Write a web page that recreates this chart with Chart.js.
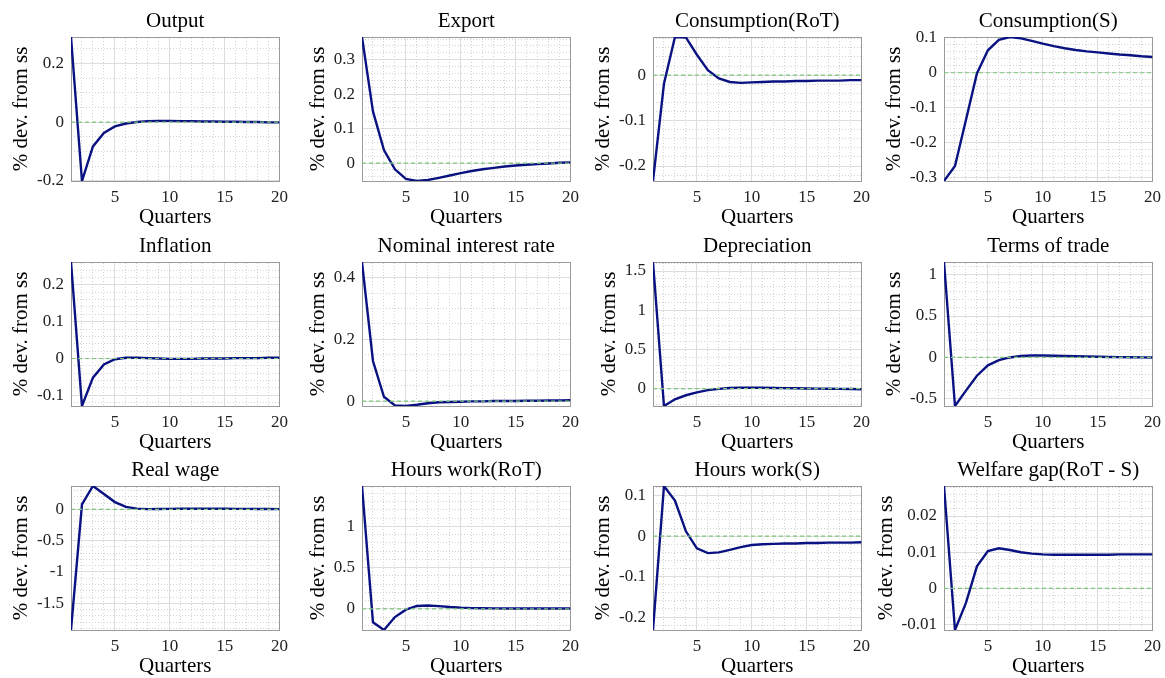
<!DOCTYPE html>
<html>
<head>
<meta charset="utf-8">
<script src="https://cdn.jsdelivr.net/npm/chart.js@4"></script>
<style>
  html, body { margin: 0; padding: 0; background: #ffffff; }
  body { width: 1165px; height: 678px; position: relative; overflow: hidden; }
  canvas { position: absolute; }
</style>
</head>
<body>
<script>
// ---------------- DATA ----------------
const quarters = [1, 2, 3, 4, 5, 6, 7, 8, 9, 10, 11, 12, 13, 14, 15, 16, 17, 18, 19, 20];

const titles = ['Output', 'Export', 'Consumption(RoT)', 'Consumption(S)',
                'Inflation', 'Nominal interest rate', 'Depreciation', 'Terms of trade',
                'Real wage', 'Hours work(RoT)', 'Hours work(S)', 'Welfare gap(RoT - S)'];

const output       = [0.29, -0.201, -0.083, -0.037, -0.015, -0.005, 0.000, 0.003, 0.004, 0.004, 0.003, 0.003, 0.002, 0.002, 0.001, 0.001, 0.000, 0.000, -0.001, -0.001];
const exportS      = [0.366, 0.150, 0.038, -0.018, -0.046, -0.052, -0.049, -0.043, -0.036, -0.029, -0.023, -0.018, -0.014, -0.010, -0.007, -0.005, -0.003, -0.001, 0.001, 0.002];
const consRoT      = [-0.233, -0.019, 0.084, 0.083, 0.045, 0.011, -0.007, -0.015, -0.017, -0.016, -0.015, -0.014, -0.014, -0.013, -0.013, -0.012, -0.012, -0.012, -0.011, -0.011];
const consS        = [-0.309, -0.266, -0.135, -0.002, 0.064, 0.094, 0.102, 0.098, 0.091, 0.083, 0.076, 0.070, 0.065, 0.061, 0.058, 0.055, 0.052, 0.050, 0.047, 0.045];
const inflation    = [0.262, -0.129, -0.052, -0.016, -0.002, 0.002, 0.002, 0.001, 0.000, -0.001, -0.001, -0.001, 0.000, 0.000, 0.000, 0.001, 0.001, 0.001, 0.002, 0.002];
const nominalRate  = [0.451, 0.130, 0.014, -0.014, -0.016, -0.012, -0.007, -0.004, -0.003, -0.002, -0.001, -0.001, 0.000, 0.000, 0.000, 0.001, 0.001, 0.002, 0.002, 0.003];
const depreciation = [1.615, -0.222, -0.137, -0.085, -0.048, -0.020, -0.003, 0.007, 0.011, 0.011, 0.010, 0.008, 0.006, 0.004, 0.002, 0.000, -0.002, -0.004, -0.006, -0.008];
const termsOfTrade = [1.152, -0.586, -0.400, -0.220, -0.095, -0.033, 0.000, 0.018, 0.024, 0.024, 0.021, 0.017, 0.014, 0.011, 0.008, 0.006, 0.004, 0.002, 0.001, 0.000];
const realWage     = [-1.927, 0.080, 0.374, 0.245, 0.117, 0.040, 0.012, 0.005, 0.006, 0.008, 0.010, 0.011, 0.011, 0.011, 0.010, 0.009, 0.008, 0.007, 0.006, 0.005];
const hoursRoT     = [1.49, -0.163, -0.257, -0.100, -0.010, 0.035, 0.040, 0.033, 0.022, 0.014, 0.009, 0.006, 0.005, 0.004, 0.004, 0.003, 0.003, 0.003, 0.003, 0.003];
const hoursS       = [-0.232, 0.124, 0.088, 0.012, -0.030, -0.042, -0.040, -0.034, -0.027, -0.022, -0.020, -0.019, -0.018, -0.018, -0.017, -0.017, -0.016, -0.016, -0.016, -0.015];
const welfareGap   = [0.0283, -0.0115, -0.0040, 0.0061, 0.0103, 0.0111, 0.0106, 0.0100, 0.0096, 0.0094, 0.0093, 0.0093, 0.0093, 0.0093, 0.0093, 0.0093, 0.0094, 0.0094, 0.0094, 0.0094];

const series = [output, exportS, consRoT, consS, inflation, nominalRate, depreciation, termsOfTrade,
                realWage, hoursRoT, hoursS, welfareGap];

const yMajorStep = [0.2, 0.1, 0.1, 0.1, 0.1, 0.2, 0.5, 0.5, 0.5, 0.5, 0.1, 0.01];
const yMinorStep = [0.05, 0.02, 0.02, 0.02, 0.02, 0.05, 0.1, 0.1, 0.1, 0.1, 0.02, 0.002];
const xMajorTicks = [5, 10, 15, 20];
const zeroLine = quarters.map(() => 0);

const xTitle = 'Quarters';
const yTitle = '% dev. from ss';

// ---------------- LAYOUT / STYLE ----------------
const COL_LEFT = [71, 362, 653, 944];
const ROW_TOP = [37, 262, 486];
const PW = 209, PH = 144;
const PAD_R = 14;
const FAMILY = "'Liberation Serif', 'Times New Roman', serif";
const TICK_FONT = { family: FAMILY, size: 17, lineHeight: 1.2 };
const LABEL_FONT = { family: FAMILY, size: 21, lineHeight: '25px' };
const TITLE_PAD = { top: 8, bottom: 3 };
const TITLE_H = 25 + TITLE_PAD.top + TITLE_PAD.bottom;
const X_AXIS_H = 49;
const BORDER = '#9a9a9a';
const MAJOR_GRID = '#dddddd';
const MINOR_GRID = '#d2d2d2';

function rnd(v) { return Math.round(v * 1e6) / 1e6; }
function fmt(v) { return String(rnd(v)); }
function stepsIn(min, max, step) {
  const out = [];
  for (let k = Math.ceil(min / step - 1e-9); k * step <= max + 1e-9; k++) out.push(rnd(k * step));
  return out;
}

const measureCtx = document.createElement('canvas').getContext('2d');
measureCtx.font = TICK_FONT.size + 'px ' + FAMILY;

series.forEach((vals, i) => {
  const col = i % 4, row = Math.floor(i / 4);
  const ymin = Math.min(...vals), ymax = Math.max(...vals);
  const majors = stepsIn(ymin, ymax, yMajorStep[i]);
  const minors = stepsIn(ymin, ymax, yMinorStep[i]).filter(v => !majors.some(m => Math.abs(m - v) < 1e-9));
  const xMinors = quarters.filter(q => !xMajorTicks.includes(q));

  const labelW = Math.max(...majors.map(v => measureCtx.measureText(fmt(v)).width));
  const yW = Math.round(labelW + 38);

  const cv = document.createElement('canvas');
  const W = yW + PW + PAD_R;
  const H = TITLE_H + PH + X_AXIS_H;
  cv.width = W; cv.height = H;
  cv.style.width = W + 'px'; cv.style.height = H + 'px';
  cv.style.left = (COL_LEFT[col] - yW) + 'px';
  cv.style.top = (ROW_TOP[row] - TITLE_H) + 'px';
  document.body.appendChild(cv);

  new Chart(cv, {
    type: 'line',
    data: {
      datasets: [
        {
          data: quarters.map((q, k) => ({ x: q, y: zeroLine[k] })),
          borderColor: '#7cc67c', borderWidth: 1.2, borderDash: [4, 3],
          pointRadius: 0, order: 0
        },
        {
          data: quarters.map((q, k) => ({ x: q, y: vals[k] })),
          borderColor: '#0a1282', borderWidth: 2.4,
          pointRadius: 0, tension: 0, order: 1
        }
      ]
    },
    options: {
      responsive: false,
      animation: false,
      devicePixelRatio: 1,
      layout: { padding: { left: 0, right: PAD_R, top: 0, bottom: 0 } },
      plugins: {
        legend: { display: false },
        tooltip: { enabled: false },
        title: {
          display: true, text: titles[i], color: '#000000', fullSize: false,
          font: { family: FAMILY, size: 21, weight: 'normal', lineHeight: '25px' },
          padding: TITLE_PAD
        }
      },
      scales: {
        x: {
          type: 'linear', position: 'bottom', min: 1, max: 20,
          afterBuildTicks: s => { s.ticks = xMajorTicks.map(v => ({ value: v })); },
          afterFit: s => { s.height = X_AXIS_H; },
          ticks: { font: TICK_FONT, color: '#222222', padding: 6, maxRotation: 0, autoSkip: false, callback: v => fmt(v) },
          grid: { color: MAJOR_GRID, lineWidth: 1, drawTicks: false, z: -1 },
          border: { display: true, color: BORDER, width: 1 },
          title: { display: true, text: xTitle, color: '#000000', font: LABEL_FONT, padding: { top: 0, bottom: 0 } }
        },
        y: {
          type: 'linear', position: 'left', min: ymin, max: ymax,
          afterBuildTicks: s => { s.ticks = majors.map(v => ({ value: v })); },
          afterFit: s => { s.width = yW; },
          ticks: { font: TICK_FONT, color: '#222222', padding: 7, autoSkip: false, callback: v => fmt(v) },
          grid: { color: MAJOR_GRID, lineWidth: 1, drawTicks: false, z: -1 },
          border: { display: true, color: BORDER, width: 1 },
          title: { display: true, text: yTitle, color: '#000000', font: LABEL_FONT, padding: { top: 3, bottom: 0 } }
        },
        xMinor: {
          type: 'linear', position: 'top', min: 1, max: 20,
          afterBuildTicks: s => { s.ticks = xMinors.map(v => ({ value: v })); },
          afterFit: s => { s.height = 0; },
          ticks: { display: false },
          grid: { color: MINOR_GRID, lineWidth: 1, drawTicks: false, z: -1 },
          border: { display: true, color: BORDER, width: 1, dash: [1, 2] }
        },
        yMinor: {
          type: 'linear', position: 'right', min: ymin, max: ymax,
          afterBuildTicks: s => { s.ticks = minors.map(v => ({ value: v })); },
          afterFit: s => { s.width = 0; },
          ticks: { display: false },
          grid: { color: MINOR_GRID, lineWidth: 1, drawTicks: false, z: -1 },
          border: { display: true, color: BORDER, width: 1, dash: [1, 2] }
        }
      }
    }
  });
});
</script>
</body>
</html>
